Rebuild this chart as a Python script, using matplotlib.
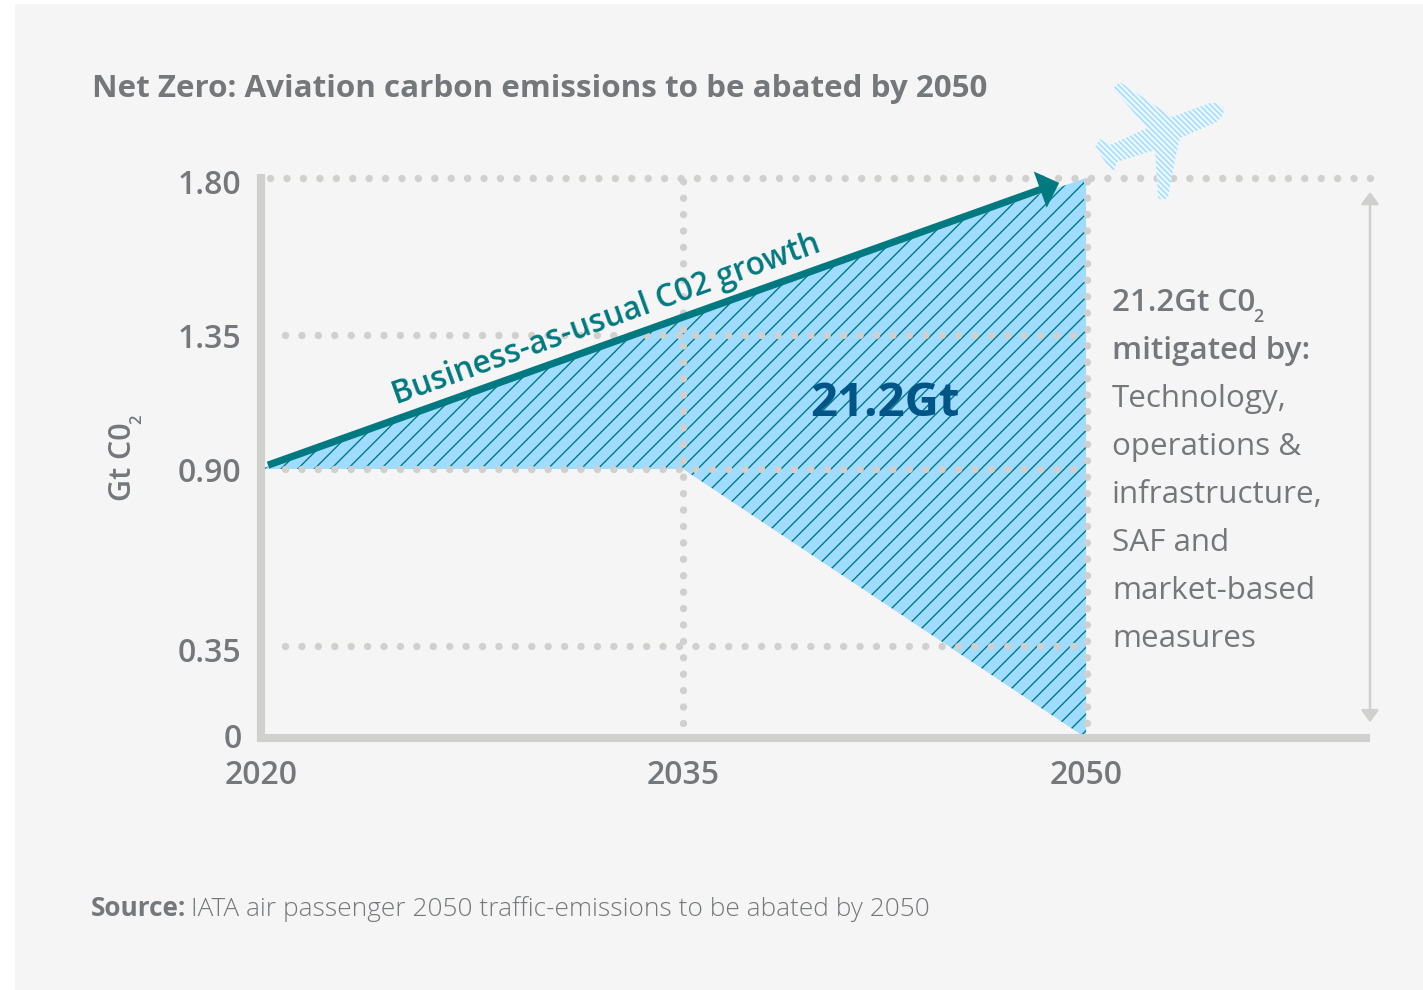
import numpy as np
from matplotlib import pyplot as plt
from matplotlib.patches import PathPatch, Rectangle
from matplotlib.path import Path
from matplotlib.transforms import ScaledTranslation

W, H = 1423, 990

# chart values
years = [2020, 2035, 2050]
bau_emissions = [0.90, 1.40, 1.80]
net_zero_path = [0.90, 0.90, 0.0]
y_ticks = [0, 0.35, 0.90, 1.35, 1.80]
y_tick_labels = ['0', '0.35', '0.90', '1.35', '1.80']
x_tick_labels = ['2020', '2035', '2050']
notes = ['Technology,', 'operations &', 'infrastructure,', 'SAF and', 'market-based', 'measures']

GREY = '#75787b'
RULE = '#d0d0ce'
TEAL = '#007a80'
SKY = '#a0dcff'

plt.rcParams['font.family'] = ['Open Sans', 'DejaVu Sans']
plt.rcParams['hatch.linewidth'] = 1.0

fig = plt.figure(figsize=(W / 100, H / 100), dpi=100, facecolor='white')


def fx(px):
    return px / W


def fy(py):
    return 1 - py / H


fig.patches.append(Rectangle((fx(15), 0), 1 - fx(15), fy(4), transform=fig.transFigure,
                             facecolor='#f5f5f5', edgecolor='none', zorder=-5))

ax = fig.add_axes([fx(261), fy(738), (1366 - 261) / W, (738 - 178) / H])
ax.patch.set_visible(False)

# the x and y axes of the graphic are not evenly spaced
x_knots = [2020, 2035, 2050, 2100]
x_pos = [0, 422, 825, 2008]
y_knots = [0, 0.35, 0.90, 1.35, 1.80, 3.0]
y_pos = [0, 92, 269, 403, 560, 1491]
ax.set_xscale('function', functions=(lambda v: np.interp(v, x_knots, x_pos),
                                     lambda v: np.interp(v, x_pos, x_knots)))
ax.set_yscale('function', functions=(lambda v: np.interp(v, y_knots, y_pos),
                                     lambda v: np.interp(v, y_pos, y_knots)))
ax.set_xlim(2020, 2061.83)
ax.set_ylim(0, 1.8)

ax.fill_between(years, net_zero_path, bau_emissions, facecolor=SKY, edgecolor=TEAL,
                hatch='//', linewidth=0, zorder=1)

# dotted guides, drawn from the end whose dot position is fixed
dots = dict(color=RULE, lw=5.3, dash_capstyle='round', dashes=(0.01, 2.22), zorder=2, clip_on=False)
for v in y_ticks[1:4]:
    ax.plot([2049.5, 2020.4], [v, v], **dots)
ax.plot([2062, 2020.2], [1.8, 1.8], **dots)
ax.plot([2035, 2035], [0.057, 1.8], **dots)
ax.plot([2050.05, 2050.05], [0.057, 1.8], **dots)

for side in ['top', 'right']:
    ax.spines[side].set_visible(False)
for side in ['left', 'bottom']:
    ax.spines[side].set_color(RULE)
    ax.spines[side].set_linewidth(5.8)
    ax.spines[side].set_zorder(3)

ax.set_xticks(years, x_tick_labels)
ax.set_yticks(y_ticks, y_tick_labels)
ax.minorticks_off()
ax.tick_params(length=0, labelcolor=GREY, labelsize=23)
ax.tick_params(axis='x', pad=15)
ax.tick_params(axis='y', pad=14)
for lab in ax.get_xticklabels() + ax.get_yticklabels():
    lab.set_fontweight('semibold')
for lab, nudge in zip(ax.get_yticklabels(), [-2, 4, 0, 1, 4]):
    lab.set_transform(lab.get_transform() + ScaledTranslation(0, -nudge / 100, fig.dpi_scale_trans))

# growth arrow
ax.annotate('', xy=(2049.0, 1.786), xytext=(2020.25, 0.913), zorder=4, annotation_clip=False,
            arrowprops=dict(arrowstyle='simple,head_length=14.5,head_width=27.7,tail_width=5.2',
                            facecolor=TEAL, edgecolor='none', linewidth=0,
                            shrinkA=0, shrinkB=0, mutation_scale=1))

# height marker on the right
ax.annotate('', xy=(2062, 1.76), xytext=(2062, 0.06), zorder=2, annotation_clip=False,
            arrowprops=dict(arrowstyle='<|-|>,head_length=0.4,head_width=0.3', color=RULE, lw=1.8,
                            shrinkA=0, shrinkB=0, mutation_scale=18))

fig.text(fx(92), fy(89.5), 'Net Zero: Aviation carbon emissions to be abated by 2050',
         color=GREY, fontsize=22.55, fontweight='bold', va='center', ha='left')
fig.text(fx(123), fy(462), 'Gt C0', color=GREY, fontsize=22, fontweight='semibold',
         rotation=90, va='center', ha='center')
fig.text(fx(137), fy(419), '2', color=GREY, fontsize=12, fontweight='semibold',
         rotation=90, va='center', ha='center')
fig.text(fx(606), fy(320), 'Business-as-usual C02 growth', color=TEAL, fontsize=22.8, fontweight='semibold',
         rotation=19.8, rotation_mode='anchor', va='center', ha='center')
fig.text(fx(885), fy(404), '21.2Gt', color='#005587', fontsize=34, fontweight='bold',
         va='center', ha='center')

fig.text(fx(1112), fy(303), '21.2Gt C0', color=GREY, fontsize=22.6, fontweight='semibold', va='center')
fig.text(fx(1253), fy(317), '2', color=GREY, fontsize=13, fontweight='semibold', va='center')
fig.text(fx(1112), fy(351), 'mitigated by:', color=GREY, fontsize=22.6, fontweight='semibold', va='center')
for i, line in enumerate(notes):
    fig.text(fx(1112), fy(399 + 48 * i), line, color=GREY, fontsize=22.6, va='center')

fig.text(fx(91), fy(909), 'Source:', color=GREY, fontsize=18.8, fontweight='bold', va='center')
fig.text(fx(191), fy(909), 'IATA air passenger 2050 traffic-emissions to be abated by 2050',
         color=GREY, fontsize=18.95, fontweight='light', va='center')

# plane icon
plane = [(1120, 82), (1172, 117), (1210, 103), (1218, 103), (1224, 108), (1223, 115), (1217, 122),
         (1180, 138), (1175, 160), (1168, 198), (1163, 200), (1158, 198), (1155, 150), (1117, 162),
         (1113, 173), (1095, 147), (1100, 139), (1110, 145), (1147, 128), (1113, 88), (1120, 82)]
verts = [(fx(x), fy(y)) for x, y in plane]
codes = [Path.MOVETO] + [Path.LINETO] * (len(verts) - 2) + [Path.CLOSEPOLY]
plt.rcParams['hatch.linewidth'] = 1.1
fig.add_artist(PathPatch(Path(verts, codes), transform=fig.transFigure, facecolor='#eef8ff',
                         edgecolor=SKY, hatch='\\' * 6, linewidth=0))

fig.savefig('out.png', dpi=100)
